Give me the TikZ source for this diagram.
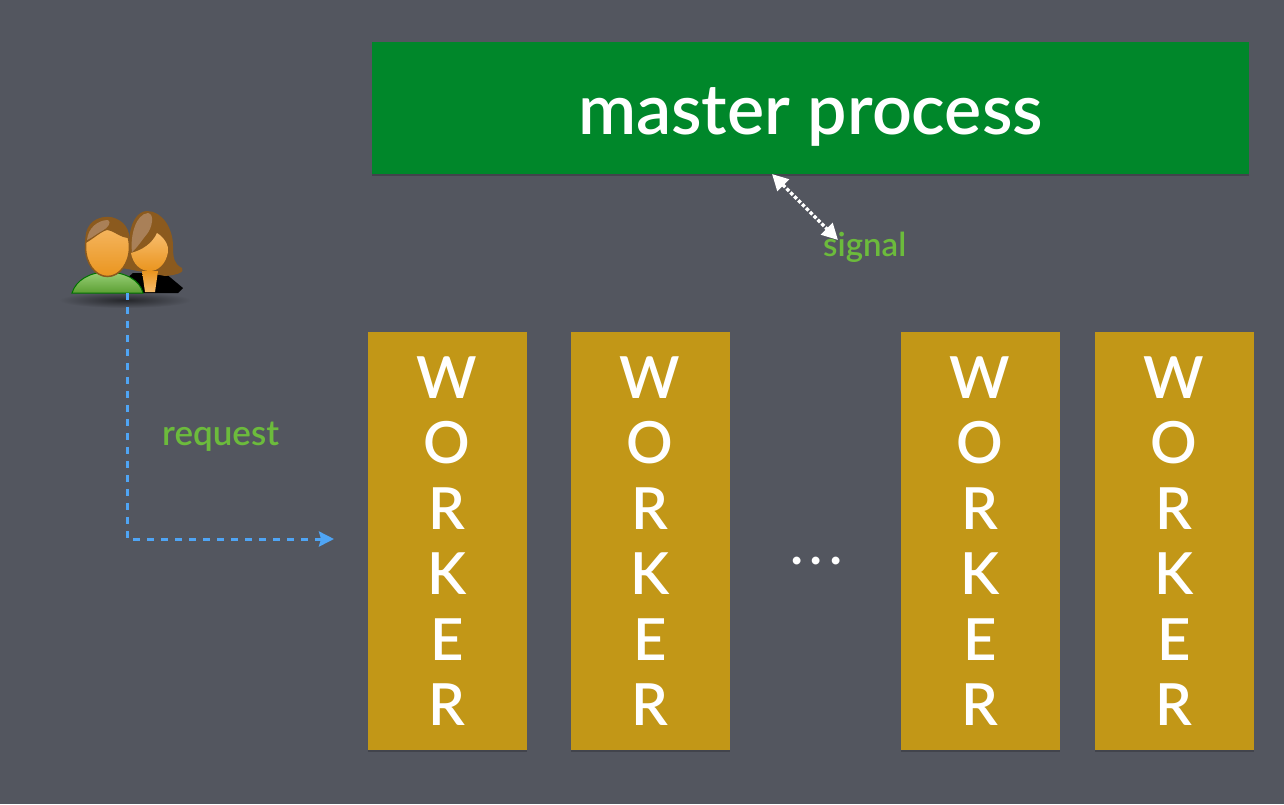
\documentclass[tikz,border=0pt]{standalone}
\usepackage{fontspec}
\setmainfont{Lato Semibold}
\usetikzlibrary{arrows.meta}

\definecolor{slidebg}{HTML}{53565F}
\definecolor{mastergreen}{HTML}{00872A}
\definecolor{workergold}{HTML}{C29717}
\definecolor{labelgreen}{HTML}{6CBB3C}
\definecolor{requestblue}{HTML}{4FA5F5}
\definecolor{hairbrown}{HTML}{8B5A1E}
\definecolor{hairlight}{HTML}{A98058}
\definecolor{skinlight}{HTML}{F7BC6C}
\definecolor{skinorange}{HTML}{EA951F}

\tikzset{
    boxshadow/.style={fill=black, fill opacity=0.2},
    workerbox/.style={fill=workergold, text=white, minimum width=159pt, minimum height=418pt,
                      align=center, inner sep=0pt, font=\fontsize{58}{65.5}\selectfont},
    flowlabel/.style={text=labelgreen, inner sep=0pt},
}

\begin{document}
\begin{tikzpicture}[x=1pt, y=-1pt]
    \useasboundingbox (0, 0) rectangle (1284, 804);
    \fill [slidebg] (0, 0) rectangle (1284, 804);

    % master
    \fill [boxshadow] (372, 45) rectangle (1249, 176);
    \node [fill=mastergreen, text=white, minimum width=877pt, minimum height=132pt, inner sep=0pt,
           text height=60pt, text depth=8pt, font=\fontsize{70}{76}\selectfont] (master) at (810.5, 108) {master process};

    % workers
    \foreach \name/\xpos in {workera/447, workerb/650, workerc/980, workerd/1174} {
        \fill [boxshadow] (\xpos-79.5, 335) rectangle (\xpos+79.5, 752);
        \node [workerbox] (\name) at (\xpos, 541) {W\\O\\R\\K\\E\\R};
    }
    \node [text=white, inner sep=0pt, font=\fontsize{56}{60}\selectfont] (moredots) at (816.5, 561) {.\kern6pt.\kern6pt.};

    % users
    \shade [inner color=black!55!slidebg, outer color=slidebg] (125, 300) ellipse (66 and 8);
    \fill [black] (125, 293) -- (125, 280) -- (133, 273) -- (165, 273) -- (183, 288) -- (178, 293) -- cycle;
    \fill [hairbrown] (129, 245) .. controls (129, 222) and (138, 211) .. (147, 211)
        .. controls (162, 211) and (173, 228) .. (173, 246) .. controls (173, 258) and (174, 264) .. (182, 268)
        .. controls (185, 272) and (178, 275) .. (165, 276) -- (122, 268) -- cycle;
    \fill [hairlight] (132, 252) .. controls (130, 235) and (136, 214) .. (148, 213)
        .. controls (155, 214) and (152, 228) .. (147, 234) .. controls (142, 240) and (137, 248) .. (132, 252);
    \shade [top color=skinlight, bottom color=skinorange] (131, 253) .. controls (142, 250) and (152, 244) .. (157, 233)
        .. controls (165, 238) and (169, 246) .. (168, 252) .. controls (166, 264) and (158, 271) .. (150, 271)
        .. controls (140, 271) and (133, 264) .. (131, 253);
    \shade [top color=skinorange, bottom color=skinlight] (142, 271) -- (158, 271) -- (155, 292) -- (145, 292) -- cycle;
    \shade [top color=labelgreen!70!white, bottom color=labelgreen!85!black, draw=green!45!black, line width=1pt]
        (72, 293) .. controls (76, 280) and (90, 272) .. (107, 272)
        .. controls (125, 272) and (140, 280) .. (143, 293) -- cycle;
    \shade [top color=skinlight, bottom color=skinorange, draw=hairbrown, line width=1.5pt] (107.5, 247) ellipse (22 and 29.5);
    \fill [hairbrown] (85.5, 243) .. controls (84, 228) and (92, 217) .. (107, 217)
        .. controls (120, 217) and (129, 226) .. (129.5, 238) .. controls (120, 238) and (115, 231) .. (107, 230)
        .. controls (100, 232) and (92, 240) .. (85.5, 243);
    \fill [hairlight] (87, 240) .. controls (88, 228) and (98, 220) .. (108, 220)
        .. controls (112, 222) and (108, 228) .. (102, 231) .. controls (96, 234) and (92, 238) .. (87, 240);

    % request
    \coordinate (usersfoot) at (127, 293);
    \coordinate (requestend) at (334, 539);
    \draw [requestblue, line width=3pt, dash pattern=on 7pt off 7pt, -{Stealth[length=15pt, width=15pt, inset=2pt]}]
        (usersfoot) |- (requestend);
    \node [flowlabel, anchor=west, font=\fontsize{35}{38}\selectfont] (requesttext) at (162, 437) {request};

    % signal
    \coordinate (signaltop) at (772, 174);
    \coordinate (signalend) at (838, 240);
    \draw [white, line width=3.5pt, dotted, {Stealth[length=16pt, width=16pt, inset=0pt]}-{Stealth[length=16pt, width=16pt, inset=0pt]}]
        (signaltop) -- (signalend);
    \node [flowlabel, anchor=west, font=\fontsize{33}{38}\selectfont] (signaltext) at (823, 247) {signal};

\end{tikzpicture}
\end{document}
